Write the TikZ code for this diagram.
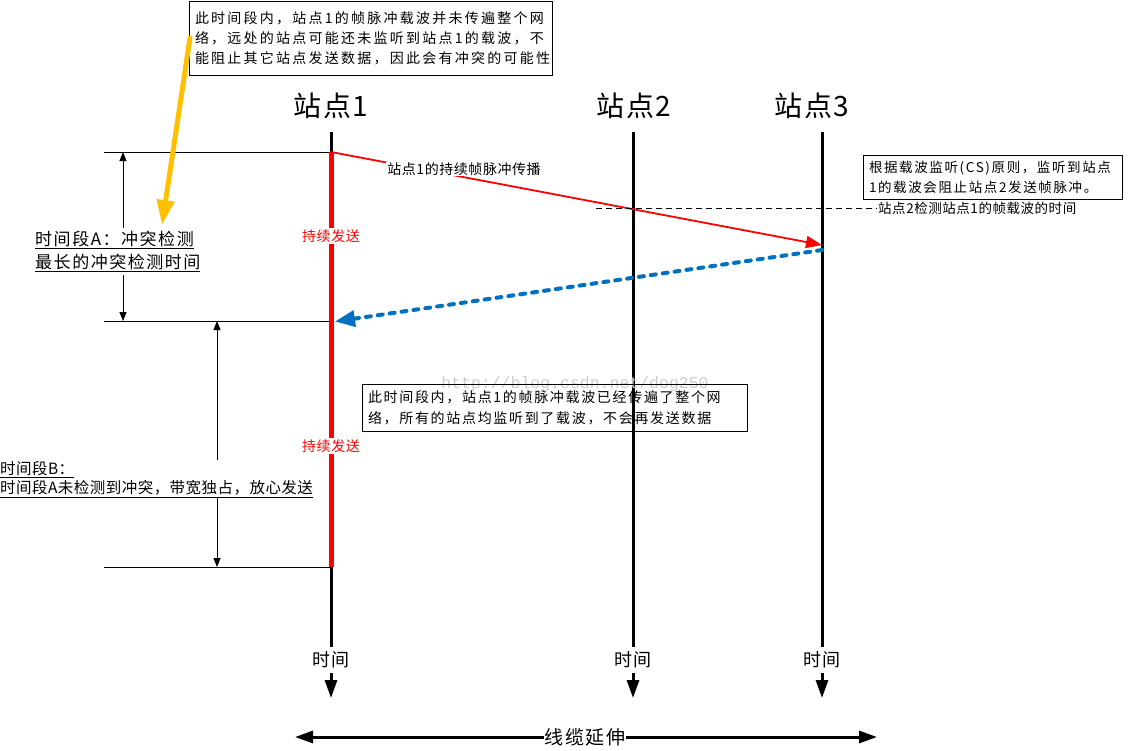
\documentclass[tikz,border=0pt]{standalone}
\usepackage{fontspec}
\setmainfont{Liberation Serif}
\newfontfamily\cjk{Noto Sans CJK SC}
\newfontfamily\wmfont{Liberation Mono}
\usetikzlibrary{arrows.meta}
\definecolor{pointeryellow}{RGB}{255,192,0}
\definecolor{bdot}{RGB}{0,112,192}
\definecolor{wmgray}{RGB}{205,205,205}
\newcommand{\cf}[3]{\cjk\fontsize{#1}{#2}\selectfont\addfontfeature{LetterSpace=#3}}
\begin{document}
\begin{tikzpicture}[x=1pt,y=-1pt,
  stline/.style={line width=3pt,black},
  sendline/.style={line width=5pt,red},
  thinline/.style={line width=0.8pt,black},
  dimarrow/.style={line width=0.8pt,-{Triangle[length=9pt,width=7pt]}},
  timearrow/.style={line width=3pt,-{Triangle[length=18pt,width=12pt]}},
  cablearrow/.style={line width=3pt,{Triangle[length=18pt,width=12pt]}-{Triangle[length=18pt,width=12pt]}},
  stlabel/.style={font=\cf{28}{30}{6},inner sep=0pt},
  timelbl/.style={font=\cf{18}{20}{8},inner sep=0pt},
  sendlbl/.style={font=\cf{14}{16}{4},text=red,fill=white,inner sep=2pt},
  notebox/.style={draw,line width=0.8pt,align=left,inner sep=6pt},
  plainlbl/.style={font=\cf{13.5}{16}{4},inner sep=1pt},
]
\useasboundingbox (0,0) rectangle (1129,750);

% station labels
\node[stlabel] (s1) at (331,106) {站点1};
\node[stlabel] (s2) at (634,106) {站点2};
\node[stlabel] (s3) at (812,106) {站点3};

% station coordinates
\coordinate (t1) at (331,132); \coordinate (b1) at (331,647);
\coordinate (t2) at (633,132); \coordinate (b2) at (633,647);
\coordinate (t3) at (822,132); \coordinate (b3) at (822,647);
\draw[stline] (t1) -- (b1);
\draw[stline] (t2) -- (b2);
\draw[stline] (t3) -- (b3);

% time labels and arrows
\node[timelbl] (tm1) at (331,660) {时间};
\node[timelbl] (tm2) at (633,660) {时间};
\node[timelbl] (tm3) at (822,660) {时间};
\coordinate (ta1) at (331,673); \coordinate (tb1) at (331,698);
\coordinate (ta2) at (633,673); \coordinate (tb2) at (633,698);
\coordinate (ta3) at (822,673); \coordinate (tb3) at (822,698);
\draw[timearrow] (ta1) -- (tb1);
\draw[timearrow] (ta2) -- (tb2);
\draw[timearrow] (ta3) -- (tb3);

% time markers
\coordinate (h1) at (331,152); \coordinate (h1l) at (104,152);
\coordinate (h2) at (331,321); \coordinate (h2l) at (104,321);
\coordinate (h3) at (331,567); \coordinate (h3l) at (104,567);
\draw[thinline] (h1l) -- (h1);
\draw[thinline] (h2l) -- (h2);
\draw[thinline] (h3l) -- (h3);

% red sending line
\draw[sendline] (h1) -- (h3);
\node[sendlbl] (send1) at (331,236) {持续发送};
\node[sendlbl] (send2) at (331,446) {持续发送};

% period labels
\node[font=\cf{17}{23}{9},align=left,anchor=west,inner xsep=1pt,inner ysep=4pt] (labA) at (34,251.5)
  {\underline{时间段A：冲突检测}\\\underline{最长的冲突检测时间}};
\node[font=\cf{15.5}{19}{3},align=left,anchor=west,inner xsep=0pt,inner ysep=3pt] (labB) at (0,479.5)
  {\underline{时间段B：}\\\underline{时间段A未检测到冲突，带宽独占，放心发送}};

% dimension arrows
\coordinate (aTop) at (123,152); \coordinate (aBot) at (123,321);
\coordinate (aU) at (123,228); \coordinate (aL) at (123,275);
\draw[dimarrow] (aU) -- (aTop);
\draw[dimarrow] (aL) -- (aBot);
\coordinate (bTop) at (217,321); \coordinate (bBot) at (217,567);
\coordinate (bU) at (217,460); \coordinate (bL) at (217,498);
\draw[dimarrow] (bU) -- (bTop);
\draw[dimarrow] (bL) -- (bBot);

% propagation of station 1 frame
\coordinate (p3) at (822,245);
\draw[red,line width=1.8pt,-{Triangle[length=16pt,width=12pt]}] (h1) -- (p3);
\node[font=\cf{14}{16}{4},fill=white,inner sep=1pt] (prop) at (464,169) {站点1的持续帧脉冲传播};

% dashed detection line
\node[plainlbl,anchor=west] (det) at (877,208) {站点2检测站点1的帧载波的时间};
\coordinate (dl) at (596,208);
\draw[thinline,dash pattern=on 6pt off 4pt] (dl) -- (det.west);

% blue dotted return
\coordinate (q3) at (822,250);
\draw[bdot,line width=4pt,line cap=round,dash pattern=on 5pt off 7pt,-{Triangle[length=20pt,width=16pt]}] (q3) -- (335,321.5);

% boxes
\node[notebox,font=\cf{14}{20}{16},text width=351pt,minimum height=74pt] (topbox) at (370.5,38)
  {此时间段内，站点1的帧脉冲载波并未传遍整个网\\络，远处的站点可能还未监听到站点1的载波，不\\能阻止其它站点发送数据，因此会有冲突的可能性};
\node[notebox,font=\cf{13.5}{20}{12},text width=247pt,minimum height=39pt] (rbox) at (992.5,177.5)
  {根据载波监听(CS)原则，监听到站点\\1的载波会阻止站点2发送帧脉冲。};
\node[font=\wmfont\fontsize{16.5}{18}\selectfont,text=wmgray,inner sep=0pt] (wm) at (575,384) {http://blog.csdn.net/dog250};
\node[notebox,font=\cf{14}{21}{12},text width=373pt,minimum height=38pt] (mbox) at (554.5,408)
  {此时间段内，站点1的帧脉冲载波已经传遍了整个网\\络，所有的站点均监听到了载波，不会再发送数据};

% yellow pointer
\coordinate (y0) at (190,38); \coordinate (y1) at (162,225);
\draw[draw=pointeryellow,fill=pointeryellow,line width=5pt,line cap=round,-{Triangle[length=25pt,width=17pt]}] (y0) -- (y1);

% cable extension
\coordinate (cl) at (295,737); \coordinate (cr) at (877,737);
\draw[cablearrow] (cl) -- (cr);
\node[font=\cf{19}{21}{8},fill=white,inner xsep=1pt,inner ysep=0pt] (cable) at (585,737) {线缆延伸};
\end{tikzpicture}
\end{document}
